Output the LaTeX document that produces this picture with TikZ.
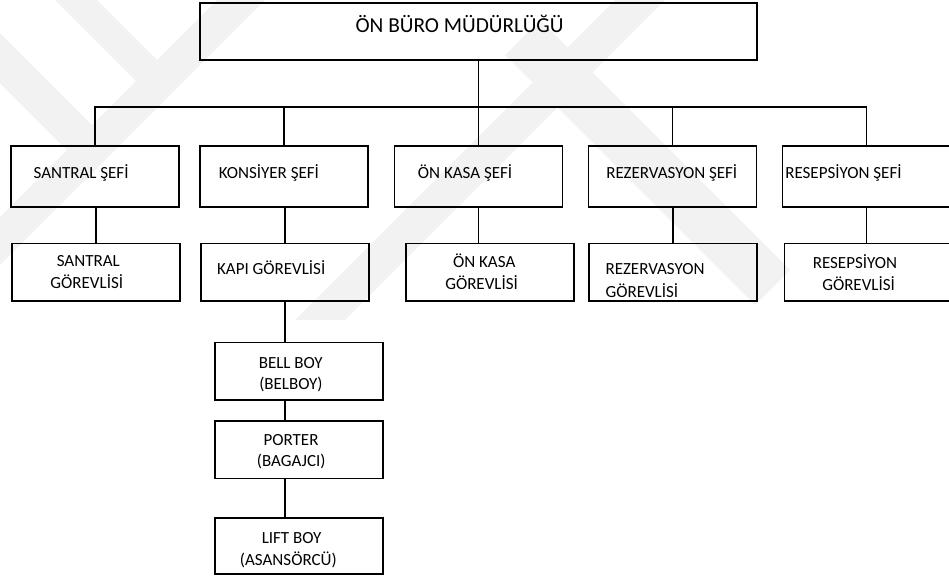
\documentclass[tikz,border=0pt]{standalone}
\usepackage{fontspec}
\setmainfont{Carlito}
\tikzset{
  box/.style={draw=black, line width=1.3pt, inner sep=0pt, outer sep=0pt,
              minimum width=126pt, minimum height=43.1pt},
  chief/.style={box, minimum height=45.75pt},
  txt/.style={anchor=base west, inner sep=0pt, font=\fontsize{12.75}{15}\selectfont},
  link/.style={draw=black, line width=1.3pt},
  wm/.style={fill=black!5}
}
\begin{document}
\begin{tikzpicture}[x=0.75pt,y=-0.75pt]
\useasboundingbox (0,0) rectangle (949,575);
\begin{scope}
\clip (0,0) rectangle (949,575);
% faint background emblem
\fill[wm] (217,0) -- (265,0) -- (0,265) -- (0,217) -- cycle;
\fill[wm] (55,0) -- (97,0) -- (157,60) -- (136,81) -- cycle;
\fill[wm] (0,33) -- (92,125) -- (67,150) -- (0,83) -- cycle;
\fill[wm] (615,0) -- (665,0) -- (345,320) -- (295,320) -- cycle;
\fill[wm] (505,55) -- (540,20) -- (790,270) -- (755,305) -- cycle;

% boxes
\node[box, minimum width=417.75pt, minimum height=42.75pt] (top) at (478.5,31.5) {};
\node[chief] (s1) at (95,176.5) {};
\node[chief] (s2) at (284.25,176.5) {};
\node[chief] (s3) at (478.5,176.5) {};
\node[chief] (s4) at (672.5,176.5) {};
\node[chief] (s5) at (866.5,176.5) {};
\node[box] (g1) at (96.2,272.2) {};
\node[box] (g2) at (285.2,272.2) {};
\node[box] (g3) at (490,272.2) {};
\node[box] (g4) at (673.3,272.2) {};
\node[box] (g5) at (868.6,272.2) {};
\node[box] (bell) at (299.2,371.3) {};
\node[box] (porter) at (299.2,449.7) {};
\node[box, minimum height=41.85pt] (lift) at (299.3,546.2) {};

% connectors
\coordinate (bus) at (0,107);
\draw[link] (top.south) -- (top.south |- bus);
\draw[link] (s1.north) -- (s1.north |- bus) -- (s5.north |- bus) -- (s5.north);
\foreach \n in {s2,s3,s4} \draw[link] (\n.north) -- (\n.north |- bus);
\draw[link] (g1.north |- s1.south) -- (g1.north);
\draw[link] (g2.north |- s2.south) -- (g2.north);
\draw[link] (s3.south) -- (s3.south |- g3.north);
\draw[link] (g4.north |- s4.south) -- (g4.north);
\draw[link] (s5.south) -- (s5.south |- g5.north);
\draw[link] (g2.south) -- (g2.south |- bell.north);
\draw[link] (bell.south -| g2.south) -- (porter.north -| g2.south);
\draw[link] (porter.south -| g2.south) -- (lift.north -| g2.south);

% labels
\node[txt, font=\fontsize{16}{19}\selectfont] (ltop) at (355.3,32.5) {ÖN BÜRO MÜDÜRLÜĞÜ};
\node[txt] (l1) at (33.3,178) {SANTRAL ŞEFİ};
\node[txt] (l2) at (218.5,178) {KONSİYER ŞEFİ};
\node[txt] (l3) at (417.7,178) {ÖN KASA ŞEFİ};
\node[txt] (l4) at (606,178) {REZERVASYON ŞEFİ};
\node[txt] (l5) at (785,178) {RESEPSİYON ŞEFİ};
\node[txt] (m1a) at (56.5,266) {SANTRAL};
\node[txt] (m1b) at (50.2,288.7) {GÖREVLİSİ};
\node[txt] (m2) at (216.8,274) {KAPI GÖREVLİSİ};
\node[txt] (m3a) at (452.8,267.7) {ÖN KASA};
\node[txt] (m3b) at (445,289.5) {GÖREVLİSİ};
\node[txt] (m4a) at (605.3,274.3) {REZERVASYON};
\node[txt] (m4b) at (605.3,297) {GÖREVLİSİ};
\node[txt] (m5a) at (812.5,268.8) {RESEPSİYON};
\node[txt] (m5b) at (822,290.2) {GÖREVLİSİ};
\node[txt] (b1) at (258.5,368.5) {BELL BOY};
\node[txt] (b2) at (259,389.5) {(BELBOY)};
\node[txt] (p1) at (263.3,445.7) {PORTER};
\node[txt] (p2) at (256.7,466.8) {(BAGAJCI)};
\node[txt] (f1) at (261.5,543.2) {LIFT BOY};
\node[txt] (f2) at (239.7,565.3) {(ASANSÖRCÜ)};
\end{scope}
\end{tikzpicture}
\end{document}
